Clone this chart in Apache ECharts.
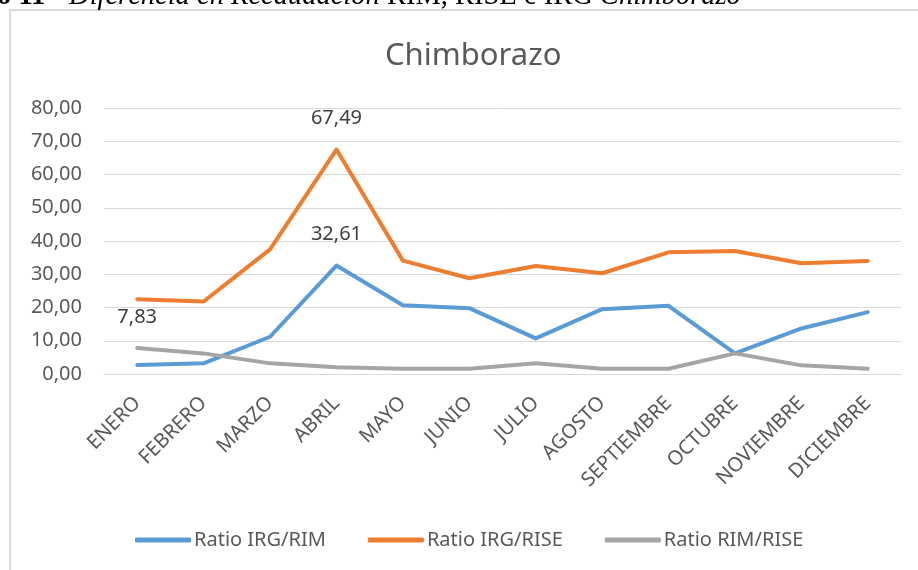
<!DOCTYPE html>
<html>
<head>
<meta charset="utf-8">
<script src="https://cdn.jsdelivr.net/npm/echarts@6/dist/echarts.min.js"></script>
<style>
  html, body { margin: 0; padding: 0; background: #fff; }
  #main { width: 918px; height: 570px; }
</style>
</head>
<body>
<div id="main"></div>
<script>
  // meses
  const meses = ['ENERO', 'FEBRERO', 'MARZO', 'ABRIL', 'MAYO', 'JUNIO', 'JULIO',
    'AGOSTO', 'SEPTIEMBRE', 'OCTUBRE', 'NOVIEMBRE', 'DICIEMBRE'];
  // series
  const ratioIrgRim = [2.7, 3.2, 11.2, 32.61, 20.7, 19.8, 10.7, 19.5, 20.5, 6.2, 13.7, 18.6];
  const ratioIrgRise = [22.5, 21.8, 37.5, 67.49, 34.1, 28.8, 32.5, 30.3, 36.6, 37.0, 33.3, 34.0];
  const ratioRimRise = [7.83, 6.2, 3.2, 2.0, 1.6, 1.6, 3.2, 1.6, 1.6, 6.2, 2.6, 1.6];
  // puntos con etiqueta
  const etiquetasIrgRim = [3];
  const etiquetasIrgRise = [3];
  const etiquetasRimRise = [0];
  const nombres = ['Ratio IRG/RIM', 'Ratio IRG/RISE', 'Ratio RIM/RISE'];
  const colores = ['#5B9BD5', '#ED7D31', '#A5A5A5'];

  const coma = v => Number(v).toFixed(2).replace('.', ',');

  function datos(valores, etiquetas) {
    return valores.map((v, i) => etiquetas.indexOf(i) >= 0
      ? { value: v, label: { show: true } }
      : v);
  }

  function serie(i, valores, etiquetas) {
    return {
      name: nombres[i],
      type: 'line',
      symbol: 'circle',
      symbolSize: 0.1,
      showSymbol: true,
      data: datos(valores, etiquetas),
      lineStyle: { color: colores[i], width: 4, cap: 'round', join: 'round' },
      itemStyle: { color: colores[i] },
      label: {
        show: false,
        position: 'top',
        distance: 21,
        color: '#404040',
        fontSize: 20,
        fontFamily: 'Noto Sans',
        formatter: p => coma(p.value)
      },
      emphasis: { disabled: true },
      animation: false
    };
  }

  const myChart = echarts.init(document.getElementById('main'));
  myChart.setOption({
    backgroundColor: '#fff',
    textStyle: { fontFamily: 'Noto Sans' },
    graphic: [
      {
        type: 'rect',
        shape: { x: 10, y: 10, width: 1000, height: 1000 },
        style: { fill: 'none', stroke: '#D9D9D9', lineWidth: 2 },
        z: -10
      },
      {
        type: 'text',
        x: -3,
        y: 11,
        style: {
          text: '{b|o 11 - }{i|Diferencia en Recaudación }{n|RIM, RISE e IRG }{i|Chimborazo}',
          verticalAlign: 'bottom',
          rich: {
            b: { fontFamily: 'Liberation Serif', fontSize: 28.5, fontWeight: 'bold', fill: '#000' },
            i: { fontFamily: 'Liberation Serif', fontSize: 28.5, fontStyle: 'italic', fill: '#000' },
            n: { fontFamily: 'Liberation Serif', fontSize: 28.5, fill: '#000' }
          }
        }
      }
    ],
    title: {
      text: 'Chimborazo',
      left: 380,
      top: 36,
      textStyle: { color: '#595959', fontSize: 31, fontWeight: 'normal', fontFamily: 'Noto Sans' }
    },
    legend: {
      data: nombres,
      left: 130,
      top: 525,
      icon: 'roundRect',
      itemWidth: 56,
      itemHeight: 5,
      itemGap: 42,
      textStyle: { color: '#595959', fontSize: 20, padding: [0, 0, 0, -2] }
    },
    grid: { left: 104, right: 17, top: 108, bottom: 196 },
    xAxis: {
      type: 'category',
      data: meses,
      boundaryGap: true,
      axisLine: { show: true, lineStyle: { color: '#D9D9D9', width: 1 } },
      axisTick: { show: false },
      axisLabel: {
        interval: 0,
        rotate: 45,
        margin: 26,
        color: '#595959',
        fontSize: 20
      }
    },
    yAxis: {
      type: 'value',
      min: 0,
      max: 80,
      interval: 10,
      axisLine: { show: false },
      axisTick: { show: false },
      splitLine: { lineStyle: { color: '#D9D9D9', width: 1 } },
      axisLabel: {
        margin: 22,
        color: '#595959',
        fontSize: 20,
        formatter: v => coma(v)
      }
    },
    series: [
      serie(0, ratioIrgRim, etiquetasIrgRim),
      serie(1, ratioIrgRise, etiquetasIrgRise),
      serie(2, ratioRimRise, etiquetasRimRise)
    ]
  });
  window.onresize = function () {
    myChart.resize();
  };
</script>
</body>
</html>
